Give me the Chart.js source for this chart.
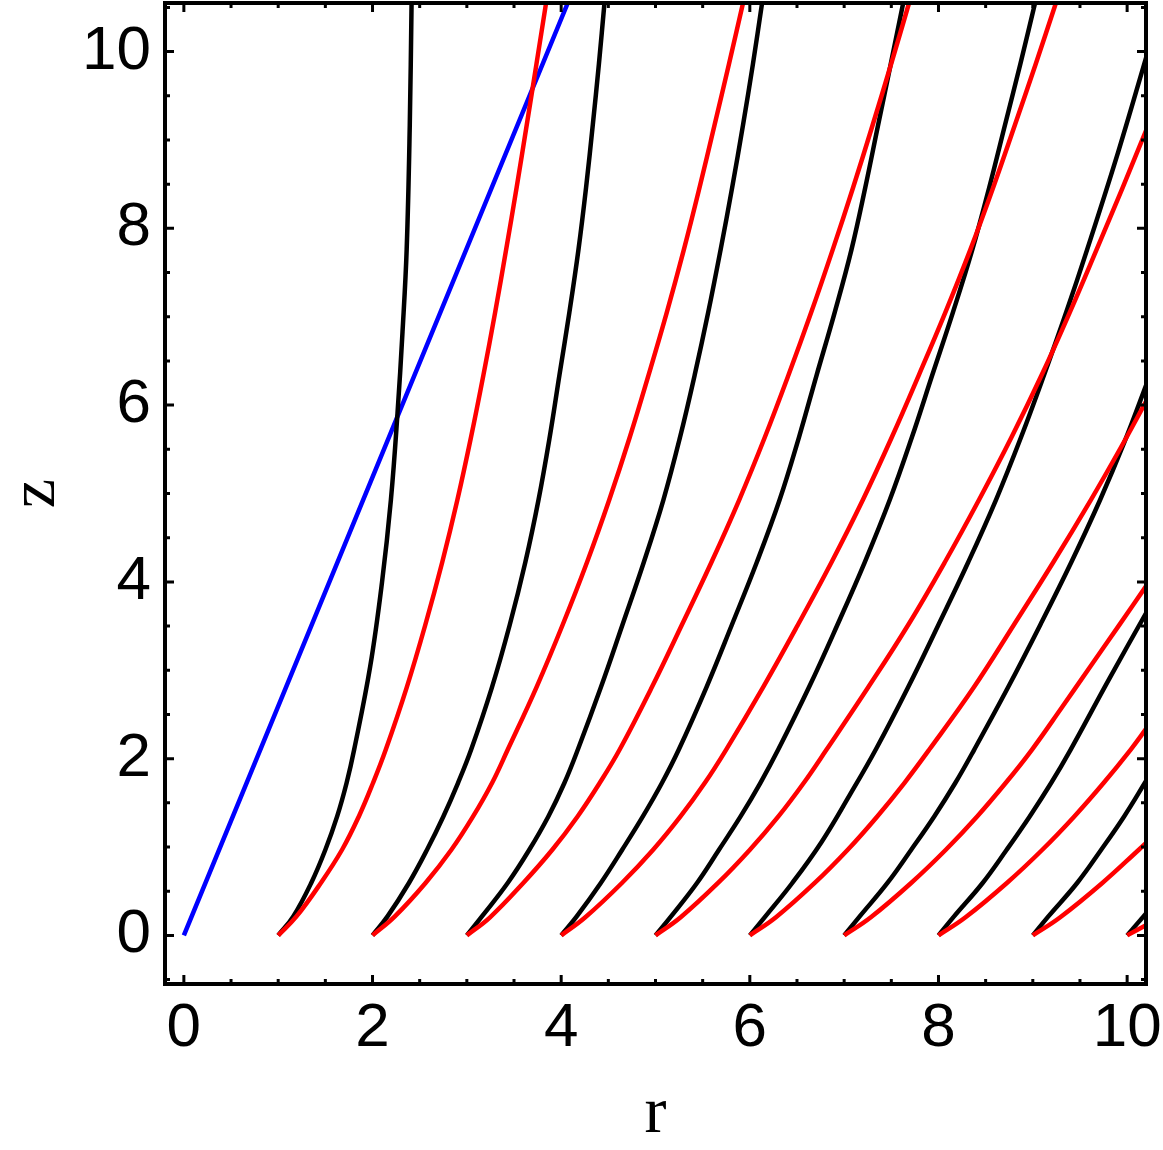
<!DOCTYPE html>
<html lang="en">
<head>
<meta charset="UTF-8">
<title>z vs r</title>
<script src="https://cdn.jsdelivr.net/npm/chart.js"></script>
<style>
  html, body { margin: 0; padding: 0; background: #fff; }
</style>
</head>
<body>
<canvas id="chart" width="1163" height="1150"></canvas>
<script>
// tick labels on both axes
const xTicks = [0, 2, 4, 6, 8, 10];
const yTicks = [0, 2, 4, 6, 8, 10];

// [r, z] points
const blue = [[0, 0], [4.07, 10.55]];

const black1 = [[1,0],[1.16,0.215],[1.35,0.593],[1.50,0.969],[1.625,1.346],[1.725,1.724],[1.805,2.10],[1.975,3.04],[2.10,3.99],[2.195,4.93],[2.265,5.91],[2.318,6.83],[2.362,7.76],[2.395,9.17],[2.414,10.55]];
const black2 = [[2,0],[2.159,0.215],[2.386,0.593],[2.578,0.969],[2.751,1.346],[2.906,1.724],[3.045,2.10],[3.266,2.807],[3.455,3.515],[3.62,4.222],[3.76,4.929],[3.878,5.636],[3.982,6.343],[4.087,7.05],[4.183,7.757],[4.264,8.463],[4.335,9.17],[4.40,9.86],[4.459,10.55]];
const black3 = [[3,0],[3.16,0.215],[3.433,0.593],[3.662,0.969],[3.864,1.346],[4.034,1.724],[4.176,2.10],[4.421,2.807],[4.65,3.515],[4.876,4.222],[5.084,4.929],[5.26,5.636],[5.416,6.343],[5.559,7.05],[5.69,7.757],[5.813,8.463],[5.928,9.17],[6.033,9.86],[6.13,10.55]];
const black4 = [[4,0],[4.165,0.215],[4.42,0.593],[4.647,0.969],[4.866,1.346],[5.068,1.724],[5.246,2.10],[5.54,2.807],[5.81,3.515],[6.074,4.222],[6.316,4.929],[6.521,5.636],[6.709,6.343],[6.90,7.05],[7.077,7.757],[7.224,8.463],[7.36,9.17],[7.494,9.86],[7.626,10.55]];
const black5 = [[5,0],[5.165,0.215],[5.44,0.593],[5.673,0.969],[5.902,1.346],[6.111,1.724],[6.30,2.10],[6.627,2.807],[6.929,3.515],[7.218,4.222],[7.484,4.929],[7.718,5.636],[7.935,6.343],[8.153,7.05],[8.358,7.757],[8.538,8.463],[8.705,9.17],[8.868,9.86],[9.024,10.55]];
const black6 = [[6,0],[6.165,0.215],[6.45,0.593],[6.759,1.055],[7.06,1.59],[7.334,2.10],[7.678,2.807],[8.0,3.515],[8.315,4.222],[8.61,4.929],[8.875,5.636],[9.12,6.343],[9.354,7.05],[9.575,7.757],[9.904,8.86],[10.21,9.963]];
const black7 = [[7,0],[7.165,0.215],[7.459,0.593],[7.711,0.969],[7.955,1.346],[8.178,1.724],[8.378,2.10],[8.738,2.807],[9.08,3.515],[9.408,4.222],[9.714,4.929],[9.974,5.589],[10.21,6.249]];
const black8 = [[8,0],[8.165,0.215],[8.468,0.593],[8.723,0.969],[8.967,1.346],[9.194,1.724],[9.40,2.10],[9.80,2.883],[10.21,3.665]];
const black9 = [[9,0],[9.165,0.215],[9.47,0.593],[9.725,0.969],[9.968,1.346],[10.21,1.764]];
const black10 = [[10,0],[10.21,0.26]];

const red1 = [[1,0],[1.194,0.215],[1.452,0.593],[1.677,0.969],[1.855,1.346],[2.005,1.724],[2.14,2.10],[2.363,2.807],[2.56,3.515],[2.739,4.222],[2.90,4.929],[3.044,5.636],[3.176,6.343],[3.30,7.05],[3.416,7.757],[3.528,8.463],[3.635,9.17],[3.738,9.86],[3.84,10.55]];
const red2 = [[2,0],[2.237,0.215],[2.562,0.593],[2.836,0.969],[3.066,1.346],[3.267,1.724],[3.433,2.10],[3.738,2.807],[4.016,3.515],[4.274,4.222],[4.51,4.929],[4.727,5.636],[4.927,6.343],[5.12,7.05],[5.30,7.757],[5.467,8.463],[5.626,9.17],[5.779,9.86],[5.928,10.55]];
const red3 = [[3,0],[3.246,0.205],[3.598,0.593],[3.906,0.969],[4.174,1.346],[4.408,1.724],[4.619,2.10],[4.961,2.807],[5.28,3.515],[5.593,4.222],[5.888,4.929],[6.159,5.636],[6.411,6.343],[6.651,7.05],[6.878,7.757],[7.095,8.463],[7.302,9.17],[7.498,9.86],[7.688,10.55]];
const red4 = [[4,0],[4.256,0.205],[4.644,0.593],[4.975,0.969],[5.265,1.346],[5.522,1.724],[5.748,2.10],[6.14,2.807],[6.51,3.515],[6.866,4.222],[7.199,4.929],[7.505,5.636],[7.793,6.343],[8.073,7.05],[8.337,7.757],[8.58,8.463],[8.81,9.17],[9.031,9.86],[9.245,10.55]];
const red5 = [[5,0],[5.267,0.205],[5.663,0.593],[6.001,0.969],[6.303,1.346],[6.571,1.724],[6.812,2.10],[7.255,2.807],[7.68,3.515],[8.067,4.222],[8.43,4.929],[8.774,5.636],[9.095,6.343],[9.392,7.05],[9.675,7.757],[9.946,8.445],[10.21,9.133]];
const red6 = [[6,0],[6.277,0.205],[6.688,0.593],[7.038,0.969],[7.351,1.346],[7.638,1.724],[7.901,2.10],[8.375,2.807],[8.80,3.515],[9.217,4.222],[9.616,4.929],[9.92,5.495],[10.21,6.06]];
const red7 = [[7,0],[7.283,0.205],[7.71,0.593],[8.078,0.969],[8.41,1.346],[8.712,1.724],[8.99,2.10],[9.302,2.57],[9.61,3.043],[9.912,3.505],[10.21,3.967]];
const red8 = [[8,0],[8.287,0.205],[8.725,0.593],[9.101,0.969],[9.44,1.346],[9.75,1.724],[10.036,2.10],[10.21,2.35]];
const red9 = [[9,0],[9.291,0.205],[9.737,0.593],[10.124,0.969],[10.21,1.055]];
const red10 = [[10,0],[10.21,0.121]];

const redCurves = [red1, red2, red3, red4, red5, red6, red7, red8, red9, red10];
const blackCurves = [black1, black2, black3, black4, black5, black6, black7, black8, black9, black10];

function makeSet(points, color) {
    return {
        data: points.map(p => ({x: p[0], y: p[1]})),
        borderColor: color,
        borderWidth: 4.5,
        pointRadius: 0,
        fill: false,
        tension: 0.4,
        clip: 0
    };
}

// first dataset is painted last, so red ends up on top
const datasets = [];
redCurves.forEach(c => datasets.push(makeSet(c, '#ff0000')));
blackCurves.forEach(c => datasets.push(makeSet(c, '#000000')));
datasets.push(makeSet(blue, '#0000ff'));

// Mathematica-like frame with inward ticks on all four sides
const framePlugin = {
    id: 'frame',
    afterDatasetsDraw(chart) {
        const {ctx, chartArea: a, scales: {x, y}} = chart;
        ctx.save();
        ctx.strokeStyle = '#000';
        ctx.lineWidth = 3;
        ctx.beginPath();
        for (let i = 0; i <= 20; i++) {
            const px = x.getPixelForValue(i / 2);
            const len = i % 4 === 0 ? 9 : 5;
            ctx.moveTo(px, a.bottom); ctx.lineTo(px, a.bottom - len);
            ctx.moveTo(px, a.top); ctx.lineTo(px, a.top + len);
        }
        for (let i = -1; i <= 21; i++) {
            const py = y.getPixelForValue(i / 2);
            const len = i % 4 === 0 ? 9 : 5;
            ctx.moveTo(a.left, py); ctx.lineTo(a.left + len, py);
            ctx.moveTo(a.right, py); ctx.lineTo(a.right - len, py);
        }
        ctx.stroke();
        ctx.lineWidth = 4;
        ctx.strokeRect(a.left, a.top, a.right - a.left, a.bottom - a.top);
        ctx.restore();
    }
};

const tickFont = {family: 'Liberation Sans', size: 62};
const titleFont = {family: 'Liberation Serif', size: 66, lineHeight: 1};

new Chart(document.getElementById('chart'), {
    type: 'line',
    data: {datasets: datasets},
    options: {
        responsive: false,
        animation: false,
        devicePixelRatio: 1,
        layout: {padding: {top: 3, right: 17, left: 0, bottom: 0}},
        plugins: {legend: {display: false}, tooltip: {enabled: false}},
        scales: {
            x: {
                type: 'linear',
                min: -0.2,
                max: 10.2,
                grid: {display: false},
                border: {display: false},
                afterBuildTicks: s => { s.ticks = xTicks.map(v => ({value: v})); },
                afterFit: s => { s.height = 166; s.paddingLeft = 0; s.paddingRight = 0; },
                ticks: {font: tickFont, color: '#000', padding: 0, maxRotation: 0, autoSkip: false},
                title: {display: true, text: 'r', font: titleFont, color: '#000', padding: {top: 0, bottom: 2}}
            },
            y: {
                type: 'linear',
                min: -0.55,
                max: 10.55,
                grid: {display: false},
                border: {display: false},
                afterBuildTicks: s => { s.ticks = yTicks.map(v => ({value: v})); },
                afterFit: s => { s.width = 165; s.paddingTop = 0; s.paddingBottom = 0; },
                ticks: {font: tickFont, color: '#000', padding: 6, autoSkip: false},
                title: {display: true, text: 'z', font: titleFont, color: '#000', padding: {top: 4, bottom: 0}}
            }
        }
    },
    plugins: [framePlugin]
});
</script>
</body>
</html>
